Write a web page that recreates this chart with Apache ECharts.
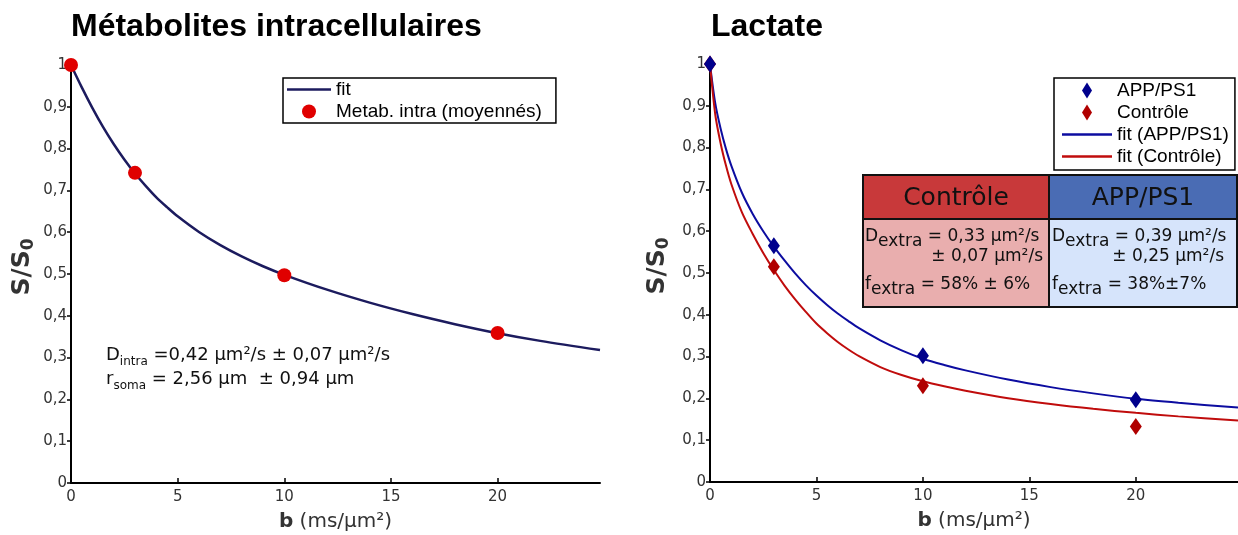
<!DOCTYPE html>
<html>
<head>
<meta charset="utf-8">
<script src="https://cdn.jsdelivr.net/npm/echarts@6/dist/echarts.min.js"></script>
<style>
  html, body { margin: 0; padding: 0; background: #fff; }
  #main { width: 1238px; height: 535px; }
</style>
</head>
<body>
<div id="main"></div>
<script>
// left panel: intracellular metabolites
const bIntra = [0, 3, 10, 20];
const sIntra = [1.0, 0.742, 0.497, 0.359];
const bFitIntra = [0, 0.5, 1, 1.5, 2, 2.5, 3, 3.5, 4, 4.5, 5, 6, 7, 8, 9, 10, 12, 14, 16, 18, 20, 22, 24.8];
const sFitIntra = [1.0, 0.947, 0.8975, 0.852, 0.811, 0.774, 0.7405, 0.711, 0.6835, 0.66, 0.638, 0.6005, 0.569, 0.542, 0.5185, 0.498, 0.4625, 0.4315, 0.4042, 0.38, 0.3584, 0.34, 0.318];

// right panel: lactate
const bLac = [0, 3, 10, 20];
const sApp = [1.0, 0.565, 0.302, 0.197];
const sCtrl = [1.0, 0.515, 0.230, 0.133];
const bFitLac = [0, 0.25, 0.5, 0.75, 1, 1.5, 2, 2.5, 3, 3.5, 4, 4.5, 5, 5.5, 6, 6.5, 7, 8, 9, 10, 11, 12, 14, 16, 18, 20, 22, 24.8];
const sFitApp = [1.0, 0.905, 0.845, 0.797, 0.757, 0.692, 0.642, 0.6, 0.563, 0.53, 0.499, 0.471, 0.446, 0.4235, 0.403, 0.385, 0.368, 0.339, 0.315, 0.295, 0.28, 0.267, 0.245, 0.227, 0.212, 0.199, 0.1895, 0.178];
const sFitCtrl = [1.0, 0.878, 0.81, 0.757, 0.713, 0.645, 0.594, 0.548, 0.507, 0.47, 0.437, 0.407, 0.379, 0.356, 0.335, 0.317, 0.301, 0.275, 0.256, 0.241, 0.229, 0.2185, 0.2005, 0.1865, 0.175, 0.1655, 0.157, 0.147];

const xTicks = [0, 5, 10, 15, 20];

const zip = (xs, ys) => xs.map((x, i) => [x, ys[i]]);

const chart = echarts.init(document.getElementById('main'));

const tickFont = 'DejaVu Sans';
const legFont = 'Liberation Sans';
const lineIcon = 'path://M0,0L44,0L44,2.4L0,2.4Z';
const diamondIcon = 'path://M5,0L10,8L5,16L0,8Z';

function makeX(idx) {
  return {
    gridIndex: idx,
    type: 'value',
    min: 0,
    max: 24.8,
    name: '{b|b} (ms/µm²)',
    nameLocation: 'middle',
    nameGap: 29,
    nameTextStyle: {
      fontFamily: tickFont, fontSize: 20, color: '#333',
      rich: { b: { fontFamily: tickFont, fontSize: 20, fontWeight: 'bold', color: '#333' } }
    },
    axisLine: { lineStyle: { color: '#000', width: 2 } },
    axisTick: { inside: true, length: 5, customValues: xTicks, lineStyle: { color: '#000', width: 1.5 } },
    axisLabel: { customValues: xTicks, color: '#333', fontFamily: tickFont, fontSize: 15, margin: 7 },
    splitLine: { show: false }
  };
}

function makeY(idx, gap) {
  return {
    gridIndex: idx,
    type: 'value',
    min: 0,
    max: 1,
    interval: 0.1,
    name: 'S/S{sub|0}',
    nameLocation: 'middle',
    nameRotate: 90,
    nameGap: gap,
    nameTextStyle: {
      fontFamily: tickFont, fontSize: 25, fontWeight: 'bold', color: '#333',
      padding: [0, 0, 0, 14],
      rich: { sub: { fontFamily: tickFont, fontSize: 17, fontWeight: 'bold', color: '#333', verticalAlign: 'bottom', lineHeight: 30 } }
    },
    axisLine: { lineStyle: { color: '#000', width: 2 } },
    axisTick: { length: 4, lineStyle: { color: '#000', width: 1.5 } },
    axisLabel: {
      color: '#333', fontFamily: tickFont, fontSize: 15, margin: 4,
      formatter: v => (v === 0 || v === 1) ? String(v) : v.toFixed(1).replace('.', ',')
    },
    splitLine: { show: false }
  };
}

const mainStyle = { fontFamily: tickFont, fontSize: 17, fill: '#111', verticalAlign: 'top', lineHeight: 22 };
const subStyle = { fontFamily: tickFont, fontSize: 17, fill: '#111', verticalAlign: 'bottom', lineHeight: 22 };

function richText(x, y, text, m, s) {
  return {
    type: 'text', x: x, y: y, z: 10,
    style: { text: text, verticalAlign: 'top', rich: { m: m, s: s } }
  };
}

const noteMain = { fontFamily: tickFont, fontSize: 18, fill: '#111', verticalAlign: 'top', lineHeight: 22 };
const noteSub = { fontFamily: tickFont, fontSize: 12, fill: '#111', verticalAlign: 'bottom', lineHeight: 22 };

const option = {
  animation: false,
  backgroundColor: '#fff',
  title: [
    { text: 'Métabolites intracellulaires', left: 66, top: 6,
      textStyle: { fontFamily: legFont, fontSize: 32, fontWeight: 'bold', color: '#000' } },
    { text: 'Lactate', left: 706, top: 6,
      textStyle: { fontFamily: legFont, fontSize: 32, fontWeight: 'bold', color: '#000' } }
  ],
  grid: [
    { left: 71, top: 65, width: 529, height: 418, outerBoundsMode: 'none' },
    { left: 710, top: 64, width: 528, height: 418, outerBoundsMode: 'none' }
  ],
  xAxis: [makeX(0), makeX(1)],
  yAxis: [makeY(0, 34), makeY(1, 38)],
  legend: [
    {
      orient: 'vertical', left: 283, top: 78,
      data: [
        { name: 'fit', icon: lineIcon },
        'Metab. intra (moyennés)'
      ],
      itemWidth: 44, itemHeight: 14, itemGap: 3,
      padding: [2, 14, 2, 4],
      borderColor: '#000', borderWidth: 1.5,
      textStyle: { fontFamily: legFont, fontSize: 19, color: '#000' }
    },
    {
      orient: 'vertical', left: 1054, top: 78,
      data: [
        { name: 'APP/PS1', icon: diamondIcon },
        { name: 'Contrôle', icon: diamondIcon },
        { name: 'fit (APP/PS1)', icon: lineIcon },
        { name: 'fit (Contrôle)', icon: lineIcon }
      ],
      itemWidth: 50, itemHeight: 16, itemGap: 3,
      padding: [3, 6, 4, 8],
      borderColor: '#000', borderWidth: 1.5,
      textStyle: { fontFamily: legFont, fontSize: 19, color: '#000' }
    }
  ],
  series: [
    {
      name: 'fit', type: 'line', xAxisIndex: 0, yAxisIndex: 0,
      data: zip(bFitIntra, sFitIntra),
      symbol: 'none', smooth: 0.3,
      lineStyle: { color: '#1c1b5e', width: 2.5 }, itemStyle: { color: '#1c1b5e' }, z: 2
    },
    {
      name: 'Metab. intra (moyennés)', type: 'scatter', xAxisIndex: 0, yAxisIndex: 0,
      data: zip(bIntra, sIntra),
      symbol: 'circle', symbolSize: 14,
      itemStyle: { color: '#e00000', opacity: 1 }, z: 3
    },
    {
      name: 'fit (APP/PS1)', type: 'line', xAxisIndex: 1, yAxisIndex: 1,
      data: zip(bFitLac, sFitApp),
      symbol: 'none', smooth: 0.3,
      lineStyle: { color: '#0c0ca0', width: 2 }, itemStyle: { color: '#0c0ca0' }, z: 2
    },
    {
      name: 'fit (Contrôle)', type: 'line', xAxisIndex: 1, yAxisIndex: 1,
      data: zip(bFitLac, sFitCtrl),
      symbol: 'none', smooth: 0.3,
      lineStyle: { color: '#c00c0c', width: 2 }, itemStyle: { color: '#c00c0c' }, z: 2
    },
    {
      name: 'Contrôle', type: 'scatter', xAxisIndex: 1, yAxisIndex: 1,
      data: zip(bLac, sCtrl),
      symbol: 'diamond', symbolSize: [12, 17],
      itemStyle: { color: '#b00000', opacity: 1 }, z: 3
    },
    {
      name: 'APP/PS1', type: 'scatter', xAxisIndex: 1, yAxisIndex: 1,
      data: zip(bLac, sApp),
      symbol: 'diamond', symbolSize: [12, 17],
      itemStyle: { color: '#00008c', opacity: 1 }, z: 4
    }
  ],
  graphic: {
    elements: [
      // annotation, left panel
      richText(106, 346, '{m|D}{s|intra}{m| =0,42 µm²/s ± 0,07 µm²/s}', noteMain, noteSub),
      richText(106, 370, '{m|r}{s|soma}{m| = 2,56 µm  ± 0,94 µm}', noteMain, noteSub),

      // table, right panel
      { type: 'rect', z: 5, shape: { x: 863, y: 175, width: 186, height: 44 },
        style: { fill: '#c8393a', stroke: '#111', lineWidth: 2 } },
      { type: 'rect', z: 5, shape: { x: 1049, y: 175, width: 188, height: 44 },
        style: { fill: '#4a6cb4', stroke: '#111', lineWidth: 2 } },
      { type: 'rect', z: 5, shape: { x: 863, y: 219, width: 186, height: 88 },
        style: { fill: '#e9aeae', stroke: '#111', lineWidth: 2 } },
      { type: 'rect', z: 5, shape: { x: 1049, y: 219, width: 188, height: 88 },
        style: { fill: '#d6e4fb', stroke: '#111', lineWidth: 2 } },
      { type: 'text', z: 10, x: 956, y: 198,
        style: { text: 'Contrôle', fontFamily: tickFont, fontSize: 25, fill: '#111', align: 'center', verticalAlign: 'middle' } },
      { type: 'text', z: 10, x: 1143, y: 198,
        style: { text: 'APP/PS1', fontFamily: tickFont, fontSize: 25, fill: '#111', align: 'center', verticalAlign: 'middle' } },

      richText(865, 228, '{m|D}{s|extra}{m| = 0,33 µm²/s}', mainStyle, subStyle),
      { type: 'text', z: 10, x: 1043, y: 257,
        style: { text: '± 0,07 µm²/s', fontFamily: tickFont, fontSize: 17, fill: '#111', align: 'right', verticalAlign: 'middle' } },
      richText(865, 276, '{m|f}{s|extra}{m| = 58% ± 6%}', mainStyle, subStyle),

      richText(1052, 228, '{m|D}{s|extra}{m| = 0,39 µm²/s}', mainStyle, subStyle),
      { type: 'text', z: 10, x: 1224, y: 257,
        style: { text: '± 0,25 µm²/s', fontFamily: tickFont, fontSize: 17, fill: '#111', align: 'right', verticalAlign: 'middle' } },
      richText(1052, 276, '{m|f}{s|extra}{m| = 38%±7%}', mainStyle, subStyle)
    ]
  }
};

chart.setOption(option);
</script>
</body>
</html>
